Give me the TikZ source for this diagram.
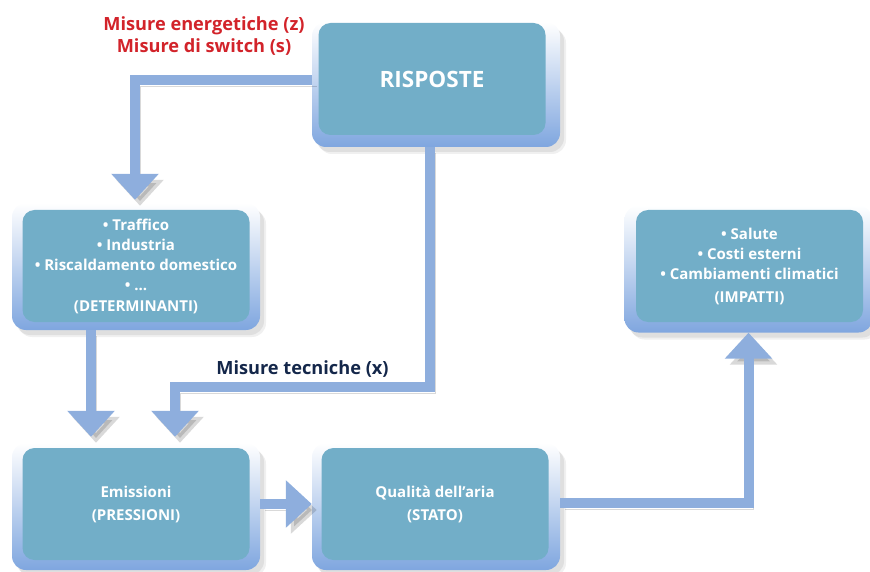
\documentclass[tikz,border=0pt]{standalone}
\usepackage{fontspec}
\setmainfont{Open Sans}
\usetikzlibrary{arrows.meta,shadows}
\definecolor{cteal}{HTML}{72AEC8}
\definecolor{cframe}{HTML}{7FA6DF}
\definecolor{cflow}{HTML}{8EAEDD}
\definecolor{cred}{HTML}{D2232A}
\definecolor{cnavy}{HTML}{14274A}
\tikzset{
  frame/.style={rounded corners=14pt, minimum width=248pt, minimum height=127pt,
    top color=white, bottom color=cframe,
    drop shadow={shadow xshift=6pt, shadow yshift=-7pt, opacity=.12},
    drop shadow={shadow xshift=4pt, shadow yshift=-5pt, opacity=.15}},
  core/.style={rounded corners=12pt, fill=cteal, minimum width=227pt, minimum height=112pt,
    text=white, align=center, font=\bfseries\fontsize{15}{20}\selectfont},
  flow/.style={cflow, line width=10pt, -{Triangle[length=26pt,width=46pt]},
    preaction={draw=black, opacity=.15, transform canvas={shift={(5pt,-6pt)}}}},
  label/.style={align=center, font=\bfseries\fontsize{18.2}{21.5}\selectfont}
}
\begin{document}
\begin{tikzpicture}[x=1pt,y=-1pt]
\useasboundingbox (0,0) rectangle (870,572);
\node[frame, minimum height=125pt] (risp) at (436,84.5){};
\node[core] (risp-t) at (432,79){\fontsize{22.5}{24}\selectfont RISPOSTE};
\node[frame] (det) at (136,266.5){};
\node[core] (det-t) at (136,266){• Traffico\\• Industria\\• Riscaldamento domestico\\• ...\\[1pt](DETERMINANTI)};
\node[frame] (emi) at (136,506.5){};
\node[core] (emi-t) at (136,504){Emissioni\\[3pt](PRESSIONI)};
\node[frame] (qual) at (436,506.5){};
\node[core] (qual-t) at (435,504){Qualità dell’aria\\[3pt](STATO)};
\node[frame] (imp) at (748.5,269){};
\node[core] (imp-t) at (749.5,266){• Salute\\• Costi esterni\\• Cambiamenti climatici\\[3pt](IMPATTI)};
% connettori
\draw[flow, shorten >=3pt] ([yshift=4.5pt]risp.west) -| ([xshift=-1pt]det.north);
\node[label, text=cred] (lab-z) at (204,36){Misure energetiche (z)\\Misure di switch (s)};
\coordinate (tk) at (175,387);
\draw[flow, shorten >=6pt] ([xshift=-6pt]risp.south) |- (tk) -- (tk |- emi.north);
\node[label, text=cnavy] (lab-x) at (302.5,369){Misure tecniche (x)};
\draw[flow, shorten >=6pt] ([xshift=-45pt]det.south) -- ([xshift=-45pt]emi.north);
\draw[flow] ([yshift=2.5pt]emi.east) -- ([yshift=2.5pt]qual.west);
\draw[flow] ([yshift=3.5pt]qual.east) -| (imp.south);
\end{tikzpicture}
\end{document}
